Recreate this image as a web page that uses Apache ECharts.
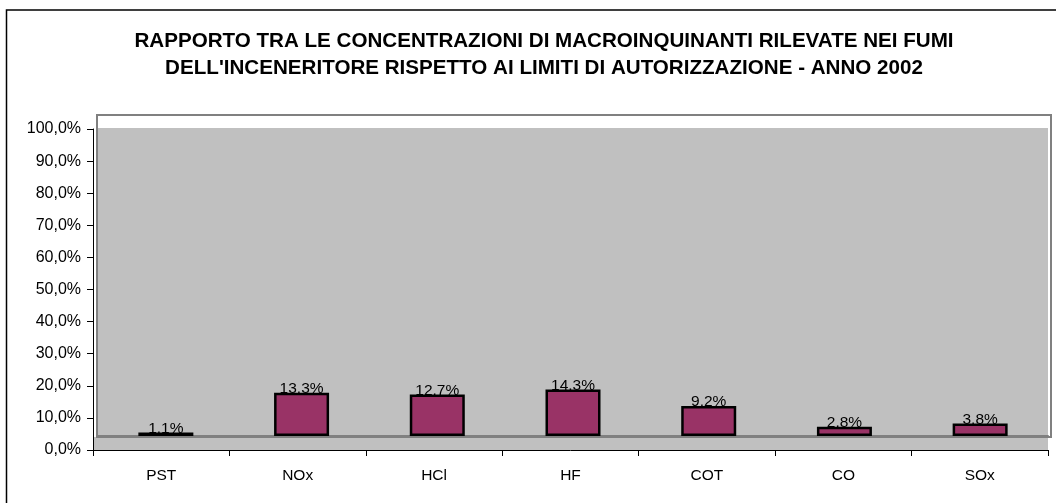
<!DOCTYPE html>
<html>
<head>
<meta charset="utf-8">
<script src="https://cdn.jsdelivr.net/npm/echarts@6/dist/echarts.min.js"></script>
<style>
  html, body { margin: 0; padding: 0; background: #fff; }
  #chart { width: 1056px; height: 503px; }
</style>
</head>
<body>
<div id="chart"></div>
<script>
// dati
const categories = ['PST', 'NOx', 'HCl', 'HF', 'COT', 'CO', 'SOx'];
const ratios = [1.1, 13.3, 12.7, 14.3, 9.2, 2.8, 3.8];
const yTicks = [0, 10, 20, 30, 40, 50, 60, 70, 80, 90, 100];

const chart = echarts.init(document.getElementById('chart'));
const font = 'Liberation Sans, Arial, sans-serif';

chart.setOption({
  animation: false,
  title: {
    text: "RAPPORTO TRA LE CONCENTRAZIONI DI MACROINQUINANTI RILEVATE NEI FUMI\nDELL'INCENERITORE RISPETTO AI LIMITI DI AUTORIZZAZIONE - ANNO 2002",
    left: 539,
    top: 23,
    textAlign: 'center',
    textStyle: { fontFamily: font, fontSize: 20.6, fontWeight: 'bold', color: '#000', lineHeight: 27 }
  },
  // bordo esterno del grafico (esce dalla finestra a destra e in basso)
  graphic: [{
    type: 'rect',
    shape: { x: 6.5, y: 10, width: 1200, height: 700 },
    style: { fill: 'none', stroke: '#000', lineWidth: 1.5 },
    silent: true
  }],
  grid: [
    // assi
    { left: 93, top: 129, right: 8, bottom: 53 },
    // pavimento
    { left: 93, top: 437, right: 8, bottom: 53, show: true, backgroundColor: '#c0c0c0', borderWidth: 0 },
    // cornice area del grafico
    { left: 97, top: 115, right: 5, bottom: 66, show: true, backgroundColor: '#fff', borderColor: '#808080', borderWidth: 2 },
    // parete di fondo
    { left: 98, top: 128, right: 8, bottom: 67, show: true, backgroundColor: '#c0c0c0', borderWidth: 0 },
    // barre
    { left: 98, top: 110, right: 8, bottom: 67 }
  ],
  xAxis: [
    {
      gridIndex: 0, type: 'category', data: categories,
      axisLine: { lineStyle: { color: '#000', width: 1 } },
      axisTick: { show: true, length: 6, lineStyle: { color: '#000' } },
      axisLabel: { fontFamily: font, fontSize: 15.5, color: '#000', margin: 18 },
      splitLine: { show: false }
    },
    { gridIndex: 1, type: 'category', data: categories, show: false },
    { gridIndex: 2, type: 'category', data: categories, show: false },
    {
      gridIndex: 3, type: 'category', data: categories,
      axisLine: { show: true, lineStyle: { color: '#808080', width: 2 } },
      axisTick: { show: false }, axisLabel: { show: false }
    },
    { gridIndex: 4, type: 'category', data: categories, show: false }
  ],
  yAxis: [
    {
      gridIndex: 0, type: 'value', min: 0, max: 100, interval: 10,
      axisLine: { show: true, lineStyle: { color: '#000', width: 1 } },
      axisTick: { show: true, length: 6, lineStyle: { color: '#000' } },
      axisLabel: {
        fontFamily: font, fontSize: 16, color: '#000', margin: 12,
        formatter: v => yTicks.includes(v) ? v.toFixed(1).replace('.', ',') + '%' : ''
      },
      splitLine: { show: false }
    },
    { gridIndex: 1, type: 'value', show: false },
    { gridIndex: 2, type: 'value', show: false },
    { gridIndex: 3, type: 'value', show: false },
    { gridIndex: 4, type: 'value', min: 0, max: 100, show: false, splitLine: { show: false } }
  ],
  series: [{
    type: 'bar',
    xAxisIndex: 4,
    yAxisIndex: 4,
    data: ratios,
    barWidth: 55,
    itemStyle: { color: '#993366', borderColor: '#000', borderWidth: 2.5 },
    label: {
      show: true,
      position: 'top',
      distance: -4,
      fontFamily: font,
      fontSize: 15.5,
      color: '#000',
      formatter: p => p.value.toFixed(1) + '%'
    }
  }]
});
</script>
</body>
</html>
